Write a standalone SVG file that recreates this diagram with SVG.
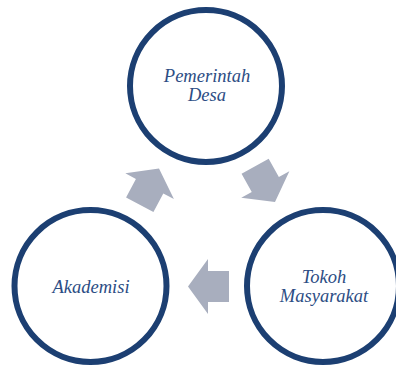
<svg xmlns="http://www.w3.org/2000/svg" width="396" height="366" viewBox="0 0 396 366">
  <style>
    .ring { fill: #ffffff; stroke: #1c3f72; stroke-width: 6; }
    .lbl { font-family: "Liberation Serif", "DejaVu Serif", serif; font-style: italic; font-size: 18.5px; fill: #2c4d84; text-anchor: middle; }
    .arrow { fill: #a8aebe; }
  </style>
  <defs>
    <polygon id="arr" points="0,0 -20,-27.5 -20,-15.5 -41,-15.5 -41,15.5 -20,15.5 -20,27.5"/>
  </defs>
  <rect width="396" height="366" fill="#ffffff"/>
  <g id="connectors">
    <use href="#arr" class="arrow" transform="translate(159,168.5) rotate(-62)"/>
    <use href="#arr" class="arrow" transform="translate(275,202) rotate(61)"/>
    <use href="#arr" class="arrow" transform="translate(188,286.5) rotate(180)"/>
  </g>
  <g id="pemerintah-desa">
    <circle class="ring" cx="206" cy="86" r="76"/>
    <text class="lbl" x="207" y="81.5">Pemerintah</text>
    <text class="lbl" x="207" y="100.5">Desa</text>
  </g>
  <g id="akademisi">
    <circle class="ring" cx="90.5" cy="286" r="76"/>
    <text class="lbl" x="91" y="292.5">Akademisi</text>
  </g>
  <g id="tokoh-masyarakat">
    <circle class="ring" cx="323" cy="286" r="76"/>
    <text class="lbl" x="324" y="283">Tokoh</text>
    <text class="lbl" x="324" y="302">Masyarakat</text>
  </g>
</svg>
